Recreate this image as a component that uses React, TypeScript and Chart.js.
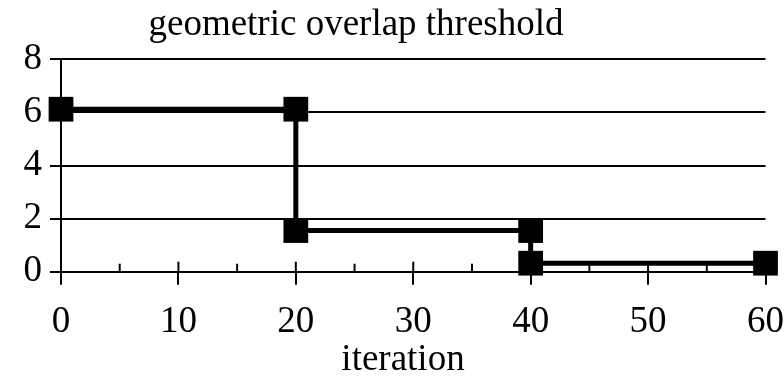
import React, { useEffect, useRef } from "react";
import { Chart, registerables } from "chart.js";

Chart.register(...registerables);

// Threshold schedule: each iteration where the value changes appears twice
const iterations = [0, 20, 20, 40, 40, 60];
const thresholds = [6.12, 6.12, 1.55, 1.55, 0.32, 0.32];

const xTicks = [0, 10, 20, 30, 40, 50, 60];
const yTicks = [0, 2, 4, 6, 8];

const chartTitle = "geometric overlap threshold";
const xAxisTitle = "iteration";

const FONT = '"Liberation Serif", "Times New Roman", serif';
const FONT_SIZE = 37;

// Inner tick marks on the x axis (long ones at each labelled value, short ones halfway)
const innerTicks = {
  id: "innerTicks",
  beforeDatasetsDraw(chart: any) {
    const { ctx, chartArea, scales } = chart;
    const x = scales.x;
    ctx.save();
    ctx.strokeStyle = "#000";
    ctx.lineWidth = 2;
    for (let i = 0; i < xTicks.length; i++) {
      const v = xTicks[i];
      const px = x.getPixelForValue(v);
      ctx.beginPath();
      ctx.moveTo(px, chartArea.bottom);
      ctx.lineTo(px, chartArea.bottom - 10);
      ctx.stroke();
      if (i < xTicks.length - 1) {
        const mid = x.getPixelForValue((v + xTicks[i + 1]) / 2);
        ctx.beginPath();
        ctx.moveTo(mid, chartArea.bottom);
        ctx.lineTo(mid, chartArea.bottom - 8);
        ctx.stroke();
      }
    }
    ctx.restore();
  },
};

// Chart heading and axis caption
const captions = {
  id: "captions",
  afterDraw(chart: any) {
    const { ctx } = chart;
    ctx.save();
    ctx.fillStyle = "#000";
    ctx.font = `${FONT_SIZE}px ${FONT}`;
    ctx.textAlign = "center";
    ctx.textBaseline = "alphabetic";
    ctx.fillText(chartTitle, 356, 35);
    ctx.fillText(xAxisTitle, 403, 370);
    ctx.restore();
  },
};

export default function App() {
  const canvasRef = useRef<HTMLCanvasElement | null>(null);

  useEffect(() => {
    if (!canvasRef.current) return;
    const chart = new Chart(canvasRef.current, {
      type: "line",
      data: {
        datasets: [
          {
            data: iterations.map((x, i) => ({ x, y: thresholds[i] })),
            borderColor: "#000",
            backgroundColor: "#000",
            borderWidth: 5,
            tension: 0,
            pointStyle: "rect",
            pointRadius: 17.5,
            pointHoverRadius: 17.5,
            pointBorderWidth: 0,
            pointBackgroundColor: "#000",
            clip: false as any,
          },
        ],
      },
      options: {
        animation: false,
        responsive: true,
        maintainAspectRatio: false,
        events: [],
        layout: { padding: { top: 59.3, right: 0, left: 0, bottom: 0 } },
        plugins: {
          legend: { display: false },
          title: { display: false },
          tooltip: { enabled: false },
        },
        scales: {
          x: {
            type: "linear",
            min: 0,
            max: 60,
            afterFit(scale: any) {
              scale.height = 104.3;
              scale.paddingLeft = 0;
              scale.paddingRight = 18.5;
            },
            afterBuildTicks(scale: any) {
              scale.ticks = xTicks.map((value) => ({ value }));
            },
            grid: {
              display: true,
              drawOnChartArea: false,
              drawTicks: true,
              tickLength: 13,
              color: "#000",
              lineWidth: 2,
            },
            border: { display: false },
            ticks: {
              color: "#000",
              font: { family: FONT, size: FONT_SIZE },
              padding: 15,
              maxRotation: 0,
              autoSkip: false,
            },
          },
          y: {
            type: "linear",
            min: 0,
            max: 8,
            afterFit(scale: any) {
              scale.width = 61;
            },
            afterBuildTicks(scale: any) {
              scale.ticks = yTicks.map((value) => ({ value }));
            },
            grid: {
              color: "#000",
              lineWidth: 2,
              tickLength: 11,
            },
            border: { display: true, color: "#000", width: 2 },
            ticks: {
              color: "#000",
              font: { family: FONT, size: FONT_SIZE },
              padding: 8,
            },
          },
        },
      },
      plugins: [innerTicks, captions],
    });
    return () => chart.destroy();
  }, []);

  return (
    <div
      style={{
        position: "fixed",
        left: 0,
        top: 0,
        width: 784,
        height: 376,
        background: "#fff",
      }}
    >
      <canvas ref={canvasRef} />
    </div>
  );
}
